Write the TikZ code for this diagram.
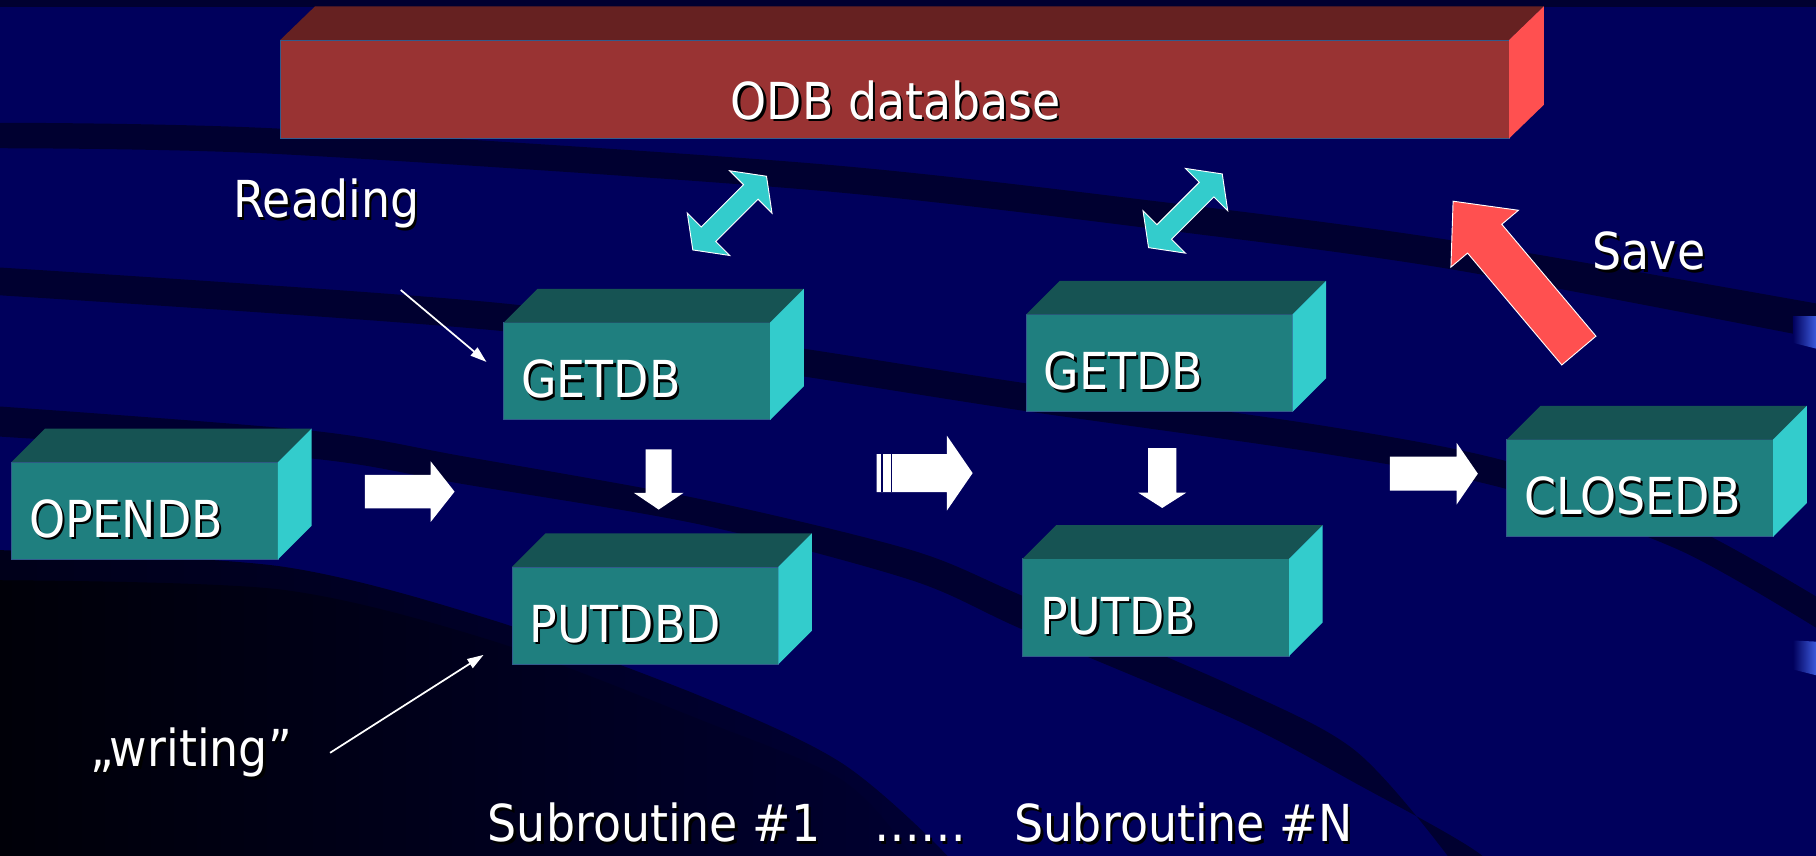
\documentclass[tikz,border=0pt]{standalone}
\usepackage{fontspec}
\setmainfont{DejaVu Sans}[FakeStretch=0.9]
\usetikzlibrary{
  positioning,
  shapes.arrows,
  arrows.meta,
  calc
}
\definecolor{bgnavy}{RGB}{0,0,92}
\definecolor{bandnavy}{RGB}{0,0,48}
\definecolor{deepnavy}{RGB}{0,0,52}
\definecolor{nearblack}{RGB}{0,0,8}
\definecolor{tabblue}{RGB}{60,90,220}
\definecolor{blockfront}{RGB}{31,127,127}
\definecolor{blocktop}{RGB}{22,83,83}
\definecolor{blockside}{RGB}{51,204,204}
\definecolor{blockedge}{RGB}{50,90,140}
\definecolor{odbfront}{RGB}{153,51,51}
\definecolor{odbtop}{RGB}{102,33,33}
\definecolor{odbside}{RGB}{255,80,80}
\definecolor{linkcyan}{RGB}{51,204,204}
\definecolor{savered}{RGB}{255,80,80}

% white text with a small dark drop shadow
\newcommand{\shadowed}[1]{\makebox[0pt][l]{\hspace{2pt}\raisebox{-2pt}{\color{black}#1}}#1}

\tikzset{
  dbblock/.style={
    rectangle,
    fill=blockfront,
    draw=blockedge,
    line width=0.6pt,
    minimum width=230,
    minimum height=84,
    inner sep=0,
    outer sep=0
  },
  odbblock/.style={
    dbblock,
    fill=odbfront,
    minimum width=1061,
    minimum height=85
  },
  slidetext/.style={
    text=white,
    inner sep=0,
    font=\fontsize{44}{52}\selectfont
  },
  flowarrow/.style={
    single arrow,
    fill=white,
    inner xsep=0,
    outer sep=0,
    anchor=tail
  },
  linkarrow/.style={
    double arrow,
    fill=linkcyan,
    draw=white,
    line width=0.8pt,
    inner xsep=0,
    inner ysep=8.5,
    minimum height=90,
    double arrow head extend=17,
    double arrow tip angle=107,
    rotate=45
  },
  savearrow/.style={
    single arrow,
    fill=savered,
    draw=white,
    line width=0.8pt,
    inner xsep=0,
    anchor=tail
  },
  pointer/.style={
    draw=white,
    line width=1.5pt,
    -{Triangle[length=14pt,width=9pt]}
  }
}

\begin{document}
\begin{tikzpicture}[x=1pt, y=1pt]

  \useasboundingbox (0,0) rectangle (1568,739);

  % Background with dark swooshes
  \begin{scope}
    \clip (0,0) rectangle (1568,739);
    \fill[bgnavy] (0,0) rectangle (1568,739);
    \fill[bandnavy] (0,733) rectangle (1568,739);
    \fill[bandnavy] plot[smooth] coordinates {(0,633) (240,628) (700,598) (1000,565) (1250,532) (1568,477)}
      -- plot[smooth] coordinates {(1568,447) (1250,507) (1000,541) (700,575) (240,606) (0,611)} -- cycle;
    \fill[bandnavy] plot[smooth] coordinates {(0,508) (435,477) (700,437) (886,408) (1145,371) (1300,341) (1450,289) (1568,224)}
      -- plot[smooth] coordinates {(1568,197) (1450,264) (1300,317) (1145,347) (886,384) (700,413) (435,453) (0,484)} -- cycle;
    \fill[bandnavy] plot[smooth] coordinates {(0,388) (270,367) (400,345) (605,308) (787,264) (884,224) (1068,145) (1170,91) (1250,0) (1270,-41)}
      -- plot[smooth] coordinates {(1300,-41) (1280,0) (1170,63) (1068,117) (884,195) (787,238) (605,286) (400,321) (270,343) (0,362)} -- cycle;
    \shade[left color=black!90!blue, right color=deepnavy]
      plot[smooth] coordinates {(0,264) (242,250) (424,204) (606,137.5) (727,80) (818,0) (840,-41)}
      -- (0,-41) -- cycle;
    \shade[left color=nearblack, right color=bandnavy]
      plot[smooth] coordinates {(0,238) (242,230) (424,186) (606,117) (727,65.5) (787,0) (800,-41)}
      -- (0,-41) -- cycle;
    \shade[left color=bgnavy, right color=tabblue] (1548,466) -- (1568,466) -- (1568,438) -- (1548,443) -- cycle;
    \shade[left color=bgnavy, right color=tabblue] (1548,186) -- (1568,185) -- (1568,156) -- (1548,161) -- cycle;
  \end{scope}

  % Database
  \node[odbblock] (odb) at (772.5,662) {};
  \fill[odbtop] (odb.north west) -- ++(30,29) -- ($(odb.north east)+(30,29)$) -- (odb.north east) -- cycle;
  \fill[odbside] (odb.north east) -- ++(30,29) -- ($(odb.south east)+(30,29)$) -- (odb.south east) -- cycle;
  \node[slidetext, anchor=base] (odbT) at ($(odb.center)+(1,-26)$) {\shadowed{ODB database}};

  % Program blocks
  \node[dbblock] (open) at (125,298) {};
  \node[dbblock] (get1) at (550,418.5) {};
  \node[dbblock, below=127 of get1, xshift=7] (put1) {};
  \node[dbblock] (get2) at (1001,425.5) {};
  \node[dbblock, below=127 of get2, xshift=-3] (put2) {};
  \node[dbblock] (close) at (1416,317.5) {};

  \foreach \b in {open,get1,put1,get2,put2,close}{
    \fill[blocktop] (\b.north west) -- ++(29,29) -- ($(\b.north east)+(29,29)$) -- (\b.north east) -- cycle;
    \fill[blockside] (\b.north east) -- ++(29,29) -- ($(\b.south east)+(29,29)$) -- (\b.south east) -- cycle;
  }

  \foreach \b/\t in {open/OPENDB, get1/GETDB, put1/PUTDBD, get2/GETDB, put2/PUTDB, close/CLOSEDB}
    \node[slidetext, anchor=base west] (\b-label) at ($(\b.south west)+(15,19)$) {\shadowed{\t}};

  % Flow arrows
  \node[flowarrow, minimum height=77.5, inner ysep=14.3,
    single arrow head extend=11.7, single arrow tip angle=103.5] (arr1) at (315,314.5) {};
  \node[flowarrow, minimum height=82.8, inner ysep=16.25,
    single arrow head extend=15.95, single arrow tip angle=111] (arr2) at (757,330.5) {};
  \fill[bgnavy] ($(arr2.tail)+(3.4,-16.25)$) rectangle ++(1.7,32.5);
  \fill[bgnavy] ($(arr2.tail)+(12,-16.25)$) rectangle ++(1,32.5);
  \node[flowarrow, minimum height=76, inner ysep=14.5,
    single arrow head extend=12, single arrow tip angle=111] (arr3) at (1200,330) {};
  \node[flowarrow, rotate=-90, minimum height=52, inner ysep=11,
    single arrow head extend=10.25, single arrow tip angle=112] (down1) at (568.75,351) {};
  \node[flowarrow, rotate=-90, minimum height=51.6, inner ysep=12,
    single arrow head extend=8.5, single arrow tip angle=115] (down2) at (1003.5,352) {};

  % Read/write links and save
  \node[linkarrow] (link1) at (630,555) {};
  \node[linkarrow] (link2) at (1023.5,557) {};
  \node[savearrow, rotate=130.1, minimum height=168.6, inner ysep=18.9,
    single arrow head extend=18.8, single arrow tip angle=84] (save) at (1363.5,436) {};

  % Labels
  \node[slidetext, anchor=base west] (reading) at (201,551) {\shadowed{Reading}};
  \node[slidetext, anchor=base west] (saveT) at (1375,506) {\shadowed{Save}};
  \node[slidetext, anchor=base west] (writing) at (78,77) {\shadowed{„writing”}};
  \node[slidetext, anchor=base west] (sub1) at (421,12) {\shadowed{Subroutine \#1}};
  \node[slidetext, anchor=base west] (dots) at (755,12) {\shadowed{……}};
  \node[slidetext, anchor=base west] (subN) at (876,12) {\shadowed{Subroutine \#N}};

  % Pointers
  \coordinate (readTail) at (346,488.6);
  \coordinate (readTip) at ($(get1.west)+(-15,8)$);
  \draw[pointer] (readTail) -- (readTip);
  \coordinate (writeTail) at (285,89);
  \coordinate (writeTip) at ($(put1.south west)+(-24.5,8)$);
  \draw[pointer] (writeTail) -- (writeTip);

\end{tikzpicture}
\end{document}
